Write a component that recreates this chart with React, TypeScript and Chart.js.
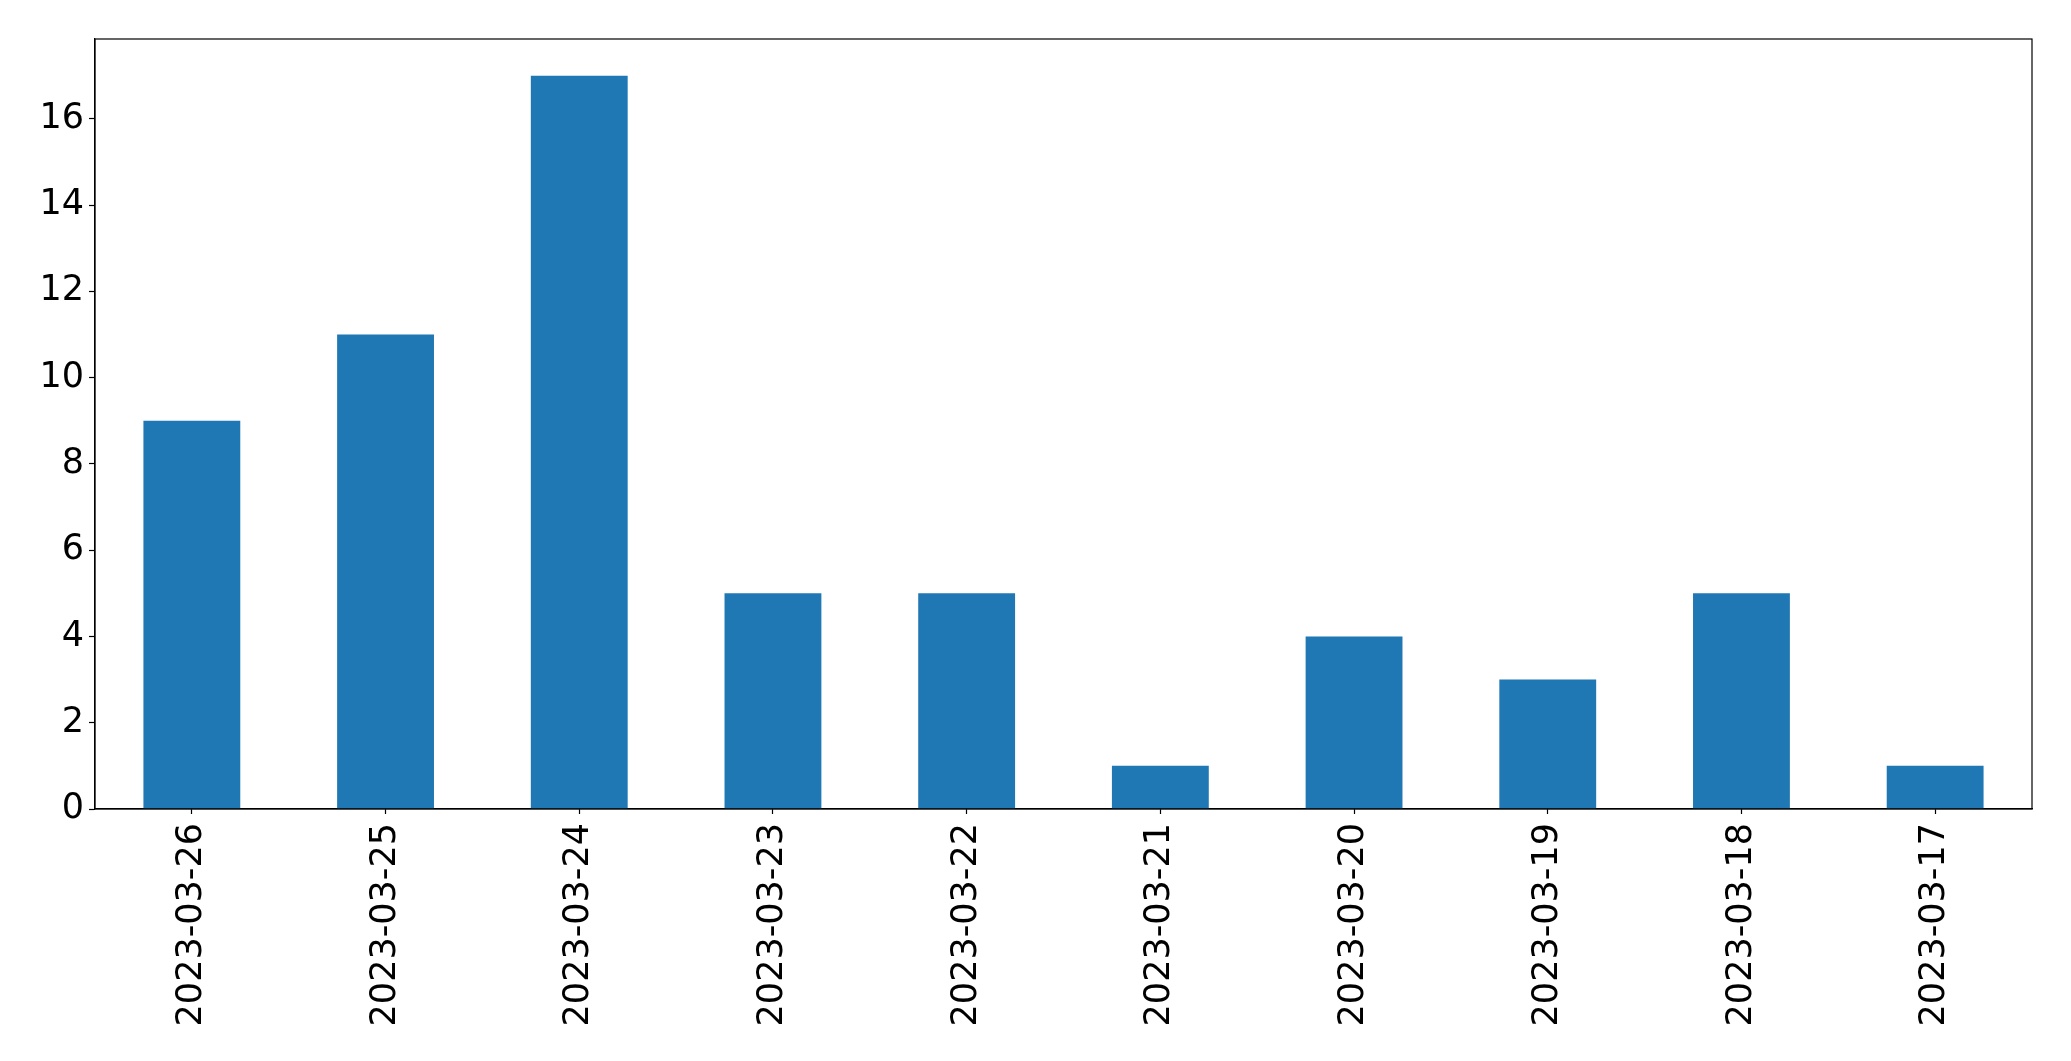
import React, { useEffect, useRef } from "react";
import { Chart, registerables } from "chart.js";

Chart.register(...registerables);

const categories = [
  "2023-03-26",
  "2023-03-25",
  "2023-03-24",
  "2023-03-23",
  "2023-03-22",
  "2023-03-21",
  "2023-03-20",
  "2023-03-19",
  "2023-03-18",
  "2023-03-17",
];
const counts = [9, 11, 17, 5, 5, 1, 4, 3, 5, 1];
const yTicks = [0, 2, 4, 6, 8, 10, 12, 14, 16];

const W = 2071;
const H = 1061;
const PLOT_LEFT = 95;
const PLOT_RIGHT = 2032;
const PLOT_TOP = 39;
const PLOT_BOTTOM = 809;

const framePlugin = {
  id: "frame",
  afterDatasetsDraw(chart: any) {
    const { ctx, chartArea } = chart;
    ctx.save();
    ctx.strokeStyle = "#000";
    ctx.lineWidth = 1.2;
    ctx.strokeRect(
      chartArea.left,
      chartArea.top,
      chartArea.right - chartArea.left,
      chartArea.bottom - chartArea.top
    );
    ctx.restore();
  },
};

export default function App() {
  const ref = useRef<HTMLCanvasElement | null>(null);

  useEffect(() => {
    document.body.style.margin = "0";
    const canvas = ref.current;
    if (!canvas) return;
    const maxVal = Math.max(...counts) * 1.05;
    const font = { family: "'DejaVu Sans', sans-serif", size: 35 };
    const chart = new Chart(canvas, {
      type: "bar",
      data: {
        labels: categories,
        datasets: [
          {
            data: counts,
            backgroundColor: "#1f77b4",
            borderWidth: 0,
            barPercentage: 0.5,
            categoryPercentage: 1,
          },
        ],
      },
      options: {
        animation: false,
        responsive: false,
        maintainAspectRatio: false,
        devicePixelRatio: 1,
        layout: {
          padding: { left: 0, right: W - PLOT_RIGHT, top: PLOT_TOP, bottom: 0 },
        },
        plugins: {
          legend: { display: false },
          tooltip: { enabled: false },
        },
        scales: {
          x: {
            type: "category",
            offset: true,
            grid: {
              display: true,
              drawOnChartArea: false,
              drawTicks: true,
              tickLength: 5,
              tickColor: "#000",
              tickWidth: 1.2,
              offset: false,
            },
            border: { display: true, color: "#000", width: 1.2 },
            ticks: {
              color: "#000",
              font,
              minRotation: 90,
              maxRotation: 90,
              autoSkip: false,
              padding: 9,
            },
            afterFit(scale: any) {
              scale.height = H - PLOT_BOTTOM;
            },
          },
          y: {
            type: "linear",
            min: 0,
            max: maxVal,
            grid: {
              display: true,
              drawOnChartArea: false,
              drawTicks: true,
              tickLength: 6,
              tickColor: "#000",
              tickWidth: 1.2,
            },
            border: { display: true, color: "#000", width: 1.2 },
            afterBuildTicks(scale: any) {
              scale.ticks = yTicks.map((v) => ({ value: v }));
            },
            ticks: {
              color: "#000",
              font,
              padding: 5,
              callback: (v: any) => String(v),
            },
            afterFit(scale: any) {
              scale.width = PLOT_LEFT;
            },
          },
        },
      },
      plugins: [framePlugin],
    });
    return () => chart.destroy();
  }, []);

  return (
    <div
      style={{
        position: "fixed",
        left: 0,
        top: 0,
        width: W,
        height: H,
        background: "#fff",
      }}
    >
      <canvas ref={ref} width={W} height={H} style={{ width: W, height: H, display: "block" }} />
    </div>
  );
}
